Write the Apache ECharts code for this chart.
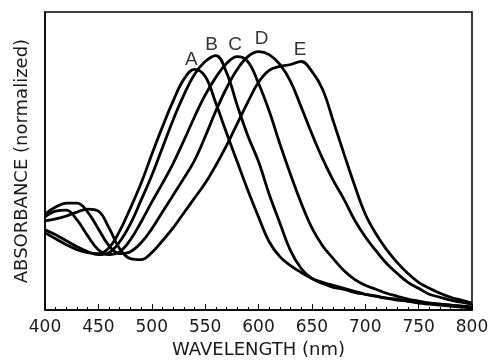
<!DOCTYPE html>
<html>
<head>
<meta charset="utf-8">
<script src="https://cdn.jsdelivr.net/npm/echarts@6/dist/echarts.min.js"></script>
<style>
  html, body { margin: 0; padding: 0; background: #fff; }
  #chart { width: 500px; height: 364px; }
</style>
</head>
<body>
<div id="chart"></div>
<script>
// wavelength grid (nm), 10 nm steps
const wavelengths = [400,410,420,430,440,450,460,470,480,490,500,510,520,530,540,550,560,570,580,590,600,
  610,620,630,640,650,660,670,680,690,700,710,720,730,740,750,760,770,780,790,800];

// absorbance (normalized, arbitrary 0-301 scale)
const curveA = [78,72,66,61,58,57,63,80,103,128,157,185,211,233,243,236,209,179,150,121,94,
  69,54,45,38,32,28,25,22,19,16,14,12,10,9,7,6,5,4,3,2];
const curveB = [81,76,70,64,59,56,58,69,87,111,136,164,192,217,238,251,257,240,207,176,150,
  117,88,60,42,32,27,23,21,18,16,14,12,11,9,8,7,6,5,4,3];
const curveC = [94,100,101,91,75,61,56,59,71,89,109,128,148,171,195,217,235,249,256,251,229,
  201,168,137,108,83,65,52,40,31,25,21,17,14,11,9,7,6,5,4,3];
const curveD = [97,104,108,108,99,82,65,57,59,68,82,99,116,133,151,175,201,224,243,256,261,
  258,248,231,205,178,153,131,112,91,74,60,47,37,28,22,16,13,10,8,6];
const curveE = [90,92,95,99,102,100,83,62,52,51,58,70,83,98,113,128,146,166,188,210,230,
  242,246,248,251,241,223,191,158,126,97,77,61,48,37,28,22,17,13,10,7];

// curve letters, placed in data coords (nm, absorbance)
const labelNames = ["A", "B", "C", "D", "E"];
const labelX = [537, 556, 578, 603, 639];
const labelY = [253, 268, 268, 274, 263];

const curves = [curveA, curveB, curveC, curveD, curveE];

const chart = echarts.init(document.getElementById("chart"));

const lineSeries = curves.map((c, i) => ({
  name: labelNames[i],
  type: "line",
  data: wavelengths.map((w, j) => [w, c[j]]),
  smooth: 0.4,
  showSymbol: false,
  lineStyle: { color: "#000", width: 2.8 },
  z: 3
}));

chart.setOption({
  animation: false,
  backgroundColor: "#fff",
  grid: {
    left: 45, right: 28, top: 12, bottom: 51,
    show: true, borderColor: "#000", borderWidth: 1.5, backgroundColor: "transparent"
  },
  xAxis: {
    type: "value",
    min: 400, max: 800, interval: 50,
    name: "WAVELENGTH (nm)",
    nameLocation: "middle",
    nameGap: 28,
    nameTextStyle: { color: "#1a1a1a", fontSize: 18, fontFamily: "DejaVu Sans" },
    axisLine: { lineStyle: { color: "#000", width: 1.5 } },
    axisTick: { inside: true, length: 6, lineStyle: { color: "#000", width: 1 } },
    minorTick: { show: true, splitNumber: 5, length: 3, lineStyle: { color: "#000", width: 1 } },
    axisLabel: { color: "#1a1a1a", fontSize: 17, fontFamily: "DejaVu Sans", margin: 9 },
    splitLine: { show: false }
  },
  yAxis: {
    type: "value",
    min: 0, max: 301,
    name: "ABSORBANCE (normalized)",
    nameLocation: "middle",
    nameRotate: 90,
    nameGap: 14,
    nameTextStyle: { color: "#1a1a1a", fontSize: 18, fontFamily: "DejaVu Sans" },
    axisLine: { show: true, lineStyle: { color: "#000", width: 1.5 } },
    axisTick: { show: false },
    axisLabel: { show: false },
    splitLine: { show: false }
  },
  series: [
    ...lineSeries,
    {
      type: "scatter",
      data: labelNames.map((n, i) => ({ name: n, value: [labelX[i], labelY[i]] })),
      symbolSize: 0,
      label: {
        show: true, position: "inside", formatter: "{b}",
        color: "#000", fontSize: 19, fontFamily: "Liberation Sans"
      },
      z: 4
    }
  ]
});
</script>
</body>
</html>
